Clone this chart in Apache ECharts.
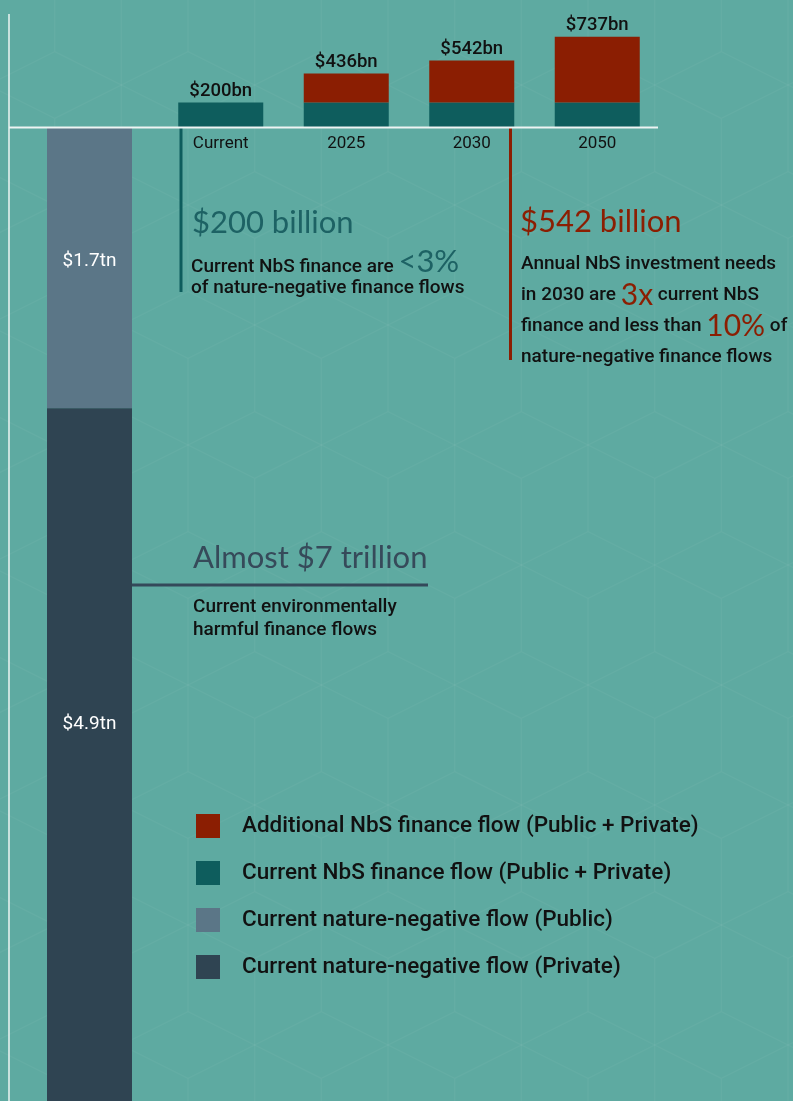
<!DOCTYPE html>
<html>
<head>
<meta charset="utf-8">
<script src="https://cdn.jsdelivr.net/npm/echarts@6/dist/echarts.min.js"></script>
<style>
  html, body { margin: 0; padding: 0; background: #5eaaa1; }
  #chart { width: 793px; height: 1101px; }
</style>
</head>
<body>
<div id="chart"></div>
<script>
// NbS finance flows, billions USD
const periods = ['Current', '2025', '2030', '2050'];
const currentNbs = [200, 200, 200, 200];
const additionalNbs = [0, 236, 342, 537];
const totalNbs = [200, 436, 542, 737];

// Nature-negative finance flows, trillions USD
const negCategory = ['Nature-negative'];
const negPublic = [1.7];
const negPrivate = [4.9];

const names = {
  additional: 'Additional NbS finance flow (Public + Private)',
  current: 'Current NbS finance flow (Public + Private)',
  negPublic: 'Current nature-negative flow (Public)',
  negPrivate: 'Current nature-negative flow (Private)'
};

const C = {
  red: '#8b1e02',
  teal: '#0e5d5d',
  slate: '#5b7687',
  navy: '#2f4452',
  ink: '#111111',
  white: '#eef4f3'
};

const BODY = 'Roboto, "Noto Sans", sans-serif';
const HEAD = 'Lato, "Noto Sans", sans-serif';

// Faint "tumbling blocks" texture: six spokes from every hub of a skewed lattice
function blockTexture() {
  const dx = 66.67, dy = 120, vLen = 86.7, dRise = 33.33;
  const ox = 188, oy = 685;
  const stroke = { stroke: 'rgba(255,255,255,0.038)', lineWidth: 1.5 };
  const segs = [];
  const add = (x1, y1, x2, y2) =>
    segs.push({ type: 'line', silent: true, shape: { x1, y1, x2, y2 }, style: stroke });
  for (let j = -7; j <= 5; j++) {
    const y = oy + dy * j;
    for (let i = -12; i <= 12; i++) {
      const x = ox + dx * (2 * i + j);
      if (x < -150 || x > 950) continue;
      add(x, y - vLen, x, y + vLen);
      add(x - dx, y - dRise, x + dx, y + dRise);
      add(x - dx, y + dRise, x + dx, y - dRise);
    }
  }
  return { type: 'group', z: -10, silent: true, children: segs };
}

const chart = echarts.init(document.getElementById('chart'), null, { renderer: 'canvas' });

chart.setOption({
  backgroundColor: '#5eaaa1',
  animation: false,
  textStyle: { fontFamily: BODY },
  grid: [
    { left: 158, width: 502, top: 29, height: 98 },
    // the nature-negative column runs off the bottom edge of the page
    { left: 9, width: 161, top: 128, height: 973 }
  ],
  xAxis: [
    {
      gridIndex: 0, type: 'category', data: periods,
      axisLine: { show: false }, axisTick: { show: false },
      axisLabel: { color: C.ink, fontSize: 17, margin: 8, fontFamily: BODY }
    },
    { gridIndex: 1, type: 'category', data: negCategory, show: false }
  ],
  yAxis: [
    { gridIndex: 0, type: 'value', min: 0, max: 800, show: false },
    { gridIndex: 1, type: 'value', min: 0, max: 5.9, inverse: true, show: false }
  ],
  legend: {
    orient: 'vertical',
    left: 196, top: 814, padding: 0,
    itemWidth: 24, itemHeight: 24, itemGap: 23,
    icon: 'rect',
    data: [names.additional, names.current, names.negPublic, names.negPrivate],
    textStyle: {
      color: C.ink, fontSize: 22.5, fontWeight: 500, fontFamily: BODY,
      lineHeight: 24, padding: [0, 0, 0, 17]
    }
  },
  series: [
    {
      name: names.current, type: 'bar', stack: 'nbs',
      xAxisIndex: 0, yAxisIndex: 0, barWidth: 85,
      itemStyle: { color: C.teal },
      data: currentNbs
    },
    {
      name: names.additional, type: 'bar', stack: 'nbs',
      xAxisIndex: 0, yAxisIndex: 0, barWidth: 85,
      itemStyle: { color: C.red },
      label: {
        show: true, position: 'top', distance: 2,
        color: C.ink, fontSize: 18.5, fontWeight: 500, fontFamily: BODY,
        formatter: p => '$' + totalNbs[p.dataIndex] + 'bn'
      },
      data: additionalNbs
    },
    {
      name: names.negPublic, type: 'bar', stack: 'neg',
      xAxisIndex: 1, yAxisIndex: 1, barWidth: 85,
      itemStyle: { color: C.slate },
      label: {
        show: true, position: 'insideTop', distance: 124,
        color: '#ffffff', fontSize: 19, fontFamily: BODY,
        formatter: p => '$' + p.value + 'tn'
      },
      data: negPublic
    },
    {
      name: names.negPrivate, type: 'bar', stack: 'neg',
      xAxisIndex: 1, yAxisIndex: 1, barWidth: 85,
      itemStyle: { color: C.navy },
      label: {
        show: true, position: 'insideTop', distance: 306,
        color: '#ffffff', fontSize: 19, fontFamily: BODY,
        formatter: p => '$' + p.value + 'tn'
      },
      data: negPrivate
    }
  ],
  graphic: [
    // background texture
    blockTexture(),

    // frame lines
    { type: 'line', shape: { x1: 9, y1: 14, x2: 9, y2: 1101 }, style: { stroke: C.white, lineWidth: 1.5 }, z: 10 },
    { type: 'line', shape: { x1: 9, y1: 127.5, x2: 658, y2: 127.5 }, style: { stroke: C.white, lineWidth: 2 }, z: 10 },

    // current NbS callout
    { type: 'line', shape: { x1: 181, y1: 128, x2: 181, y2: 292 }, style: { stroke: C.teal, lineWidth: 3 } },
    {
      type: 'text', left: 192, top: 207,
      style: { text: '$200 billion', fill: '#1d6264', font: '31px ' + HEAD }
    },
    {
      type: 'text', left: 191, top: 246,
      style: {
        text: '{t|Current NbS finance are }{b|<3%}\n{t|of nature-negative finance flows}',
        rich: {
          t: { fill: C.ink, fontSize: 19, fontWeight: 500, fontFamily: BODY, lineHeight: 21, verticalAlign: 'bottom' },
          b: { fill: '#1d6264', fontSize: 31, fontFamily: HEAD, lineHeight: 21, verticalAlign: 'bottom' }
        }
      }
    },

    // 2030 needs callout
    { type: 'line', shape: { x1: 510.5, y1: 128, x2: 510.5, y2: 360 }, style: { stroke: C.red, lineWidth: 3 } },
    {
      type: 'text', left: 520, top: 206,
      style: { text: '$542 billion', fill: C.red, font: '31px ' + HEAD }
    },
    {
      type: 'text', left: 521, top: 255,
      style: {
        text: '{t|Annual NbS investment needs}\n{t|in 2030 are }{r|3x}{t| current NbS}\n{t|finance and less than }{r|10%}{t| of}\n{t|nature-negative finance flows}',
        rich: {
          t: { fill: C.ink, fontSize: 19, fontWeight: 500, fontFamily: BODY, lineHeight: 31 },
          r: { fill: C.red, fontSize: 30, fontFamily: HEAD, lineHeight: 31 }
        }
      }
    },

    // total harmful flows callout
    { type: 'line', shape: { x1: 132, y1: 585, x2: 428, y2: 585 }, style: { stroke: '#34495a', lineWidth: 3 } },
    {
      type: 'text', left: 193, top: 542,
      style: { text: 'Almost $7 trillion', fill: '#364a5a', font: '31px ' + HEAD }
    },
    {
      type: 'text', left: 193, top: 596,
      style: {
        text: 'Current environmentally\nharmful finance flows',
        fill: C.ink, fontSize: 19, fontWeight: 500, fontFamily: BODY, lineHeight: 23
      }
    }
  ]
});
</script>
</body>
</html>
